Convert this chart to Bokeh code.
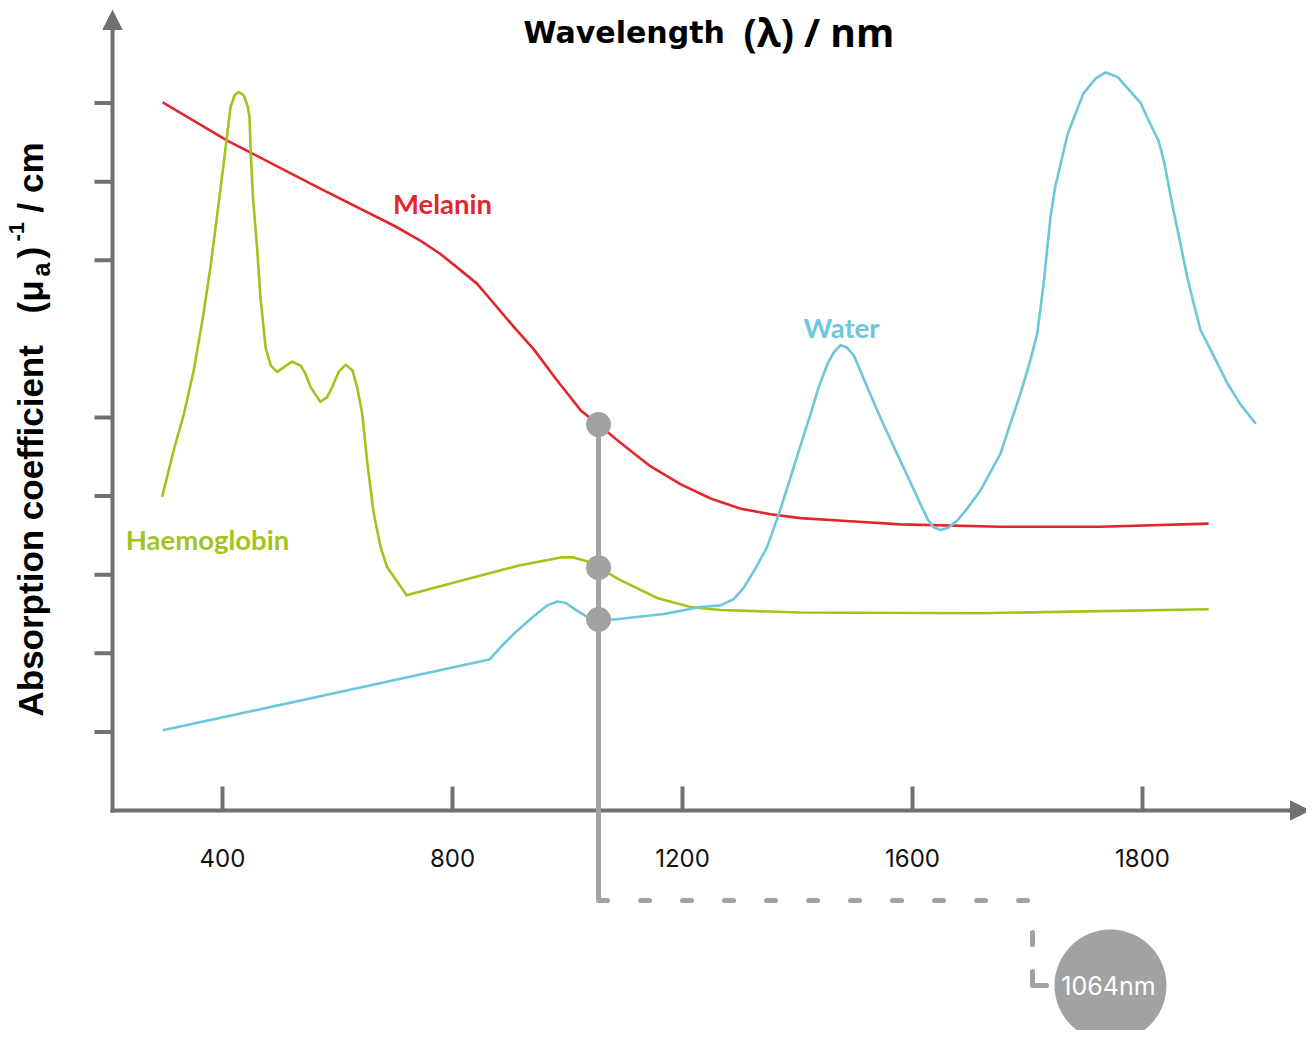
import numpy as np
from bokeh.plotting import figure
from bokeh.models import Range1d, Label, Arrow, NormalHead
from bokeh.core.properties import value
from bokeh.embed import file_html
from bokeh.resources import INLINE

# ---------------- data (x in wavelength-axis units, y in tick units) ----------------
x_tick_pos = [400, 800, 1200, 1600, 2000]
x_tick_labels = ["400", "800", "1200", "1600", "1800"]
y_tick_pos = [1, 2, 3, 4, 5, 7, 8, 9]

melanin_x = [296, 409, 449, 565, 701, 744, 779, 808, 843, 872, 907, 941, 979, 1023,
             1054, 1092, 1144, 1197, 1249, 1301, 1353, 1405, 1492, 1579, 1753, 1927, 2115]
melanin_y = [9.01, 8.52, 8.37, 7.93, 7.43, 7.25, 7.08, 6.91, 6.70, 6.45, 6.15, 5.87, 5.50, 5.09,
             4.91, 4.68, 4.38, 4.15, 3.97, 3.84, 3.77, 3.72, 3.68, 3.64, 3.61, 3.61, 3.65]

haemo_x = [295, 315, 333, 350, 365, 379, 391, 402, 414, 421, 428, 437, 444, 447, 449, 453,
           460, 466, 475, 484, 495, 507, 521, 536, 544, 553, 570, 582, 591, 602, 614, 626,
           634, 643, 652, 663, 675, 686, 707, 720, 849, 918, 988, 1010, 1034, 1054, 1092,
           1157, 1214, 1266, 1405, 1718, 2115]
haemo_y = [3.99, 4.58, 5.05, 5.60, 6.23, 6.91, 7.59, 8.23, 8.95, 9.10, 9.14, 9.10, 8.95, 8.82,
           8.38, 7.80, 7.17, 6.53, 5.89, 5.66, 5.58, 5.64, 5.71, 5.66, 5.56, 5.39, 5.20, 5.26,
           5.39, 5.58, 5.67, 5.60, 5.39, 5.05, 4.41, 3.78, 3.35, 3.10, 2.88, 2.74, 2.99, 3.12,
           3.22, 3.22, 3.17, 3.09, 2.93, 2.70, 2.59, 2.55, 2.52, 2.51, 2.56]

water_x = [296, 864, 884, 907, 936, 965, 982, 997, 1017, 1037, 1054, 1081, 1168, 1231, 1266,
           1289, 1307, 1327, 1347, 1368, 1388, 1405, 1423, 1437, 1452, 1463, 1475, 1486, 1498,
           1521, 1544, 1568, 1591, 1608, 1626, 1637, 1649, 1663, 1678, 1695, 1718, 1753, 1770,
           1788, 1805, 1817, 1828, 1840, 1849, 1852, 1870, 1897, 1918, 1936, 1957, 1997, 2008,
           2028, 2037, 2054, 2066, 2078, 2089, 2101, 2113, 2148, 2170, 2197]
water_y = [1.02, 1.92, 2.08, 2.25, 2.44, 2.61, 2.66, 2.64, 2.54, 2.45, 2.43, 2.43, 2.50, 2.59,
           2.61, 2.69, 2.84, 3.08, 3.35, 3.78, 4.24, 4.64, 5.05, 5.39, 5.68, 5.83, 5.92, 5.89,
           5.79, 5.39, 5.00, 4.62, 4.26, 3.99, 3.71, 3.60, 3.57, 3.60, 3.69, 3.84, 4.07, 4.54,
           4.92, 5.31, 5.73, 6.07, 6.70, 7.55, 7.97, 8.05, 8.61, 9.12, 9.31, 9.39, 9.33, 9.00,
           8.82, 8.52, 8.27, 7.63, 7.21, 6.78, 6.45, 6.11, 5.94, 5.43, 5.17, 4.92]

laser_pos = 1054          # position of the 1064 nm marker line on the axis
laser_label = "1064nm"

# ---------------- styles ----------------
RED = "#e3262a"
GREEN = "#a1c41d"
BLUE = "#6cc6dc"
AXIS = "#717171"
MARK = "#a2a2a2"

W, H = 1306, 1030
XPX0, XSC = 222.0, 0.575      # screen px of x=400, px per axis unit
YPX0, YSC = 810.0, 78.6       # screen px of y=0, px per tick unit


def px2x(px):
    return 400 + (px - XPX0) / XSC


def py2y(py):
    return (YPX0 - py) / YSC


p = figure(width=W, height=H, x_range=Range1d(px2x(0), px2x(W)),
           y_range=Range1d(py2y(H), py2y(0)),
           output_backend="svg", toolbar_location=None, title=None,
           min_border=0, min_border_left=0, min_border_right=0,
           min_border_top=0, min_border_bottom=0)
p.outline_line_color = None
p.axis.visible = False
p.xgrid.visible = False
p.ygrid.visible = False
p.background_fill_color = "white"

x_axis_x = px2x(112)
y_low = 0.0

# ---- axes (drawn with the plot's scales) ----
p.segment(x0=[px2x(110)], y0=[y_low], x1=[px2x(1293)], y1=[y_low], line_color=AXIS,
          line_width=4)
p.segment(x0=[x_axis_x], y0=[py2y(812)], x1=[x_axis_x], y1=[py2y(27)], line_color=AXIS,
          line_width=4)
p.segment(x0=x_tick_pos, y0=[y_low] * len(x_tick_pos), x1=x_tick_pos,
          y1=[py2y(786)] * len(x_tick_pos), line_color=AXIS, line_width=4)
p.segment(x0=[px2x(94)] * len(y_tick_pos), y0=y_tick_pos, x1=[x_axis_x] * len(y_tick_pos),
          y1=y_tick_pos, line_color=AXIS, line_width=4)
p.text(x=x_tick_pos, y=[py2y(857)] * len(x_tick_pos), text=x_tick_labels,
       text_align="center", text_baseline="middle", text_color="#111111",
       text_font=value("Inter"), text_font_size=value("24px"))
p.add_layout(Arrow(end=NormalHead(size=19, fill_color=AXIS, line_color=AXIS, line_width=1),
                   x_start=px2x(1288), y_start=y_low, x_end=px2x(1309), y_end=y_low,
                   line_color=AXIS, line_width=4))
p.add_layout(Arrow(end=NormalHead(size=19, fill_color=AXIS, line_color=AXIS, line_width=1),
                   x_start=x_axis_x, y_start=py2y(30), x_end=x_axis_x, y_end=py2y(10),
                   line_color=AXIS, line_width=4))

# ---- curves ----
p.line(melanin_x, melanin_y, line_color=RED, line_width=2.6, line_join="round")
p.line(haemo_x, haemo_y, line_color=GREEN, line_width=2.6, line_join="round")
p.line(water_x, water_y, line_color=BLUE, line_width=2.6, line_join="round")

# ---- 1064 nm marker ----
mel_at = float(np.interp(laser_pos, melanin_x, melanin_y))
hae_at = float(np.interp(laser_pos, haemo_x, haemo_y))
wat_at = float(np.interp(laser_pos, water_x, water_y))

y_bottom = py2y(900)
p.line([laser_pos, laser_pos], [mel_at, y_bottom], line_color=MARK, line_width=5)
p.line([laser_pos, px2x(1032)], [y_bottom, y_bottom], line_color=MARK, line_width=5,
       line_dash="9 33", line_cap="round")
p.line([px2x(1032), px2x(1032)], [py2y(932), py2y(944)], line_color=MARK, line_width=5,
       line_cap="round")
p.line([px2x(1032), px2x(1032), px2x(1046)], [py2y(971), py2y(985), py2y(985)],
       line_color=MARK, line_width=5, line_cap="round", line_join="round")
p.scatter([laser_pos] * 3, [mel_at, hae_at, wat_at], size=25, fill_color=MARK,
          line_color=None)
p.scatter([px2x(1110)], [py2y(985)], size=112, fill_color=MARK, line_color=None)
p.add_layout(Label(x=px2x(1108), y=py2y(985), text=laser_label, text_align="center",
                   text_baseline="middle", text_color="white", text_font="Inter",
                   text_font_size="25px"))

# ---- series labels ----
for txt, cx, cy, col in [("Melanin", 442, 203, RED), ("Water", 841, 327, BLUE),
                         ("Haemoglobin", 207, 539, GREEN)]:
    p.add_layout(Label(x=px2x(cx), y=py2y(cy), text=txt, text_align="center",
                       text_baseline="middle", text_color=col, text_font="Lato",
                       text_font_style="bold", text_font_size="27.5px"))

# ---- title ----
p.add_layout(Label(x=px2x(523), y=py2y(32), text="Wavelength", text_align="left",
                   text_baseline="middle", text_color="black", text_font="DejaVu Sans",
                   text_font_style="bold", text_font_size="30px"))
p.add_layout(Label(x=px2x(743), y=py2y(31), text="(λ) / nm", text_align="left",
                   text_baseline="middle", text_color="black", text_font="Open Sans",
                   text_font_style="bold", text_font_size="39px"))

# ---- y axis label (rotated) ----
YF = "Liberation Sans"
for txt, bx, sy, fs in [("Absorption coefficient", 30, 716, "35px"),
                        ("(μ", 30, 313, "35px"),
                        ("a", 40, 276, "25px"),
                        (")", 30, 258, "35px"),
                        ("-1", 16, 241, "22px"),
                        ("/ cm", 30, 212, "35px")]:
    p.add_layout(Label(x=px2x(bx), y=py2y(sy), text=txt, angle=np.pi / 2,
                       text_align="left", text_baseline="alphabetic", text_color="black",
                       text_font=YF, text_font_style="bold", text_font_size=fs))

open("out.html", "w").write(file_html(p, INLINE))
